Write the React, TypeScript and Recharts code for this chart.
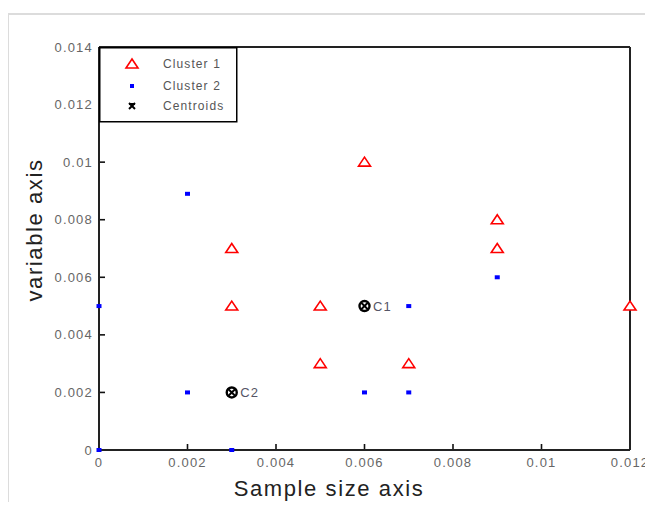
import React from 'react';
import { ScatterChart, Scatter, XAxis, YAxis, ReferenceLine, Legend, LabelList, CartesianGrid } from 'recharts';

const xTicks = [0, 0.002, 0.004, 0.006, 0.008, 0.01, 0.012];
const yTicks = [0, 0.002, 0.004, 0.006, 0.008, 0.01, 0.012, 0.014];

const cluster1X = [0.003, 0.003, 0.005, 0.005, 0.006, 0.007, 0.009, 0.009, 0.012];
const cluster1Y = [0.007, 0.005, 0.005, 0.003, 0.01, 0.003, 0.008, 0.007, 0.005];

const cluster2X = [0, 0, 0.002, 0.002, 0.003, 0.006, 0.007, 0.007, 0.009];
const cluster2Y = [0.005, 0, 0.0089, 0.002, 0, 0.002, 0.002, 0.005, 0.006];

const centroidX = [0.006, 0.003];
const centroidY = [0.005, 0.002];
const centroidLabels = ['C1', 'C2'];

const legendNames = ['Cluster 1', 'Cluster 2', 'Centroids'];

const cluster1 = cluster1X.map((x, i) => ({ x, y: cluster1Y[i] }));
const cluster2 = cluster2X.map((x, i) => ({ x, y: cluster2Y[i] }));
const centroids = centroidX.map((x, i) => ({ x, y: centroidY[i], label: centroidLabels[i] }));

const FONT = '"Liberation Sans", Arial, sans-serif';
const TICK_COLOR = '#666';

const Tri = ({ cx, cy }: any) => (
  <polygon
    points={`${cx},${cy - 5} ${cx + 6},${cy + 4} ${cx - 6},${cy + 4}`}
    fill="#fff"
    stroke="#ff0000"
    strokeWidth={1.6}
  />
);

const Dot = ({ cx, cy }: any) => <rect x={cx - 2.5} y={cy - 2} width={5} height={4} fill="#0000ff" />;

const Centroid = ({ cx, cy }: any) => (
  <g>
    <circle cx={cx} cy={cy} r={5} fill="none" stroke="#000" strokeWidth={2.4} />
    <line x1={cx - 4} y1={cy - 4} x2={cx + 4} y2={cy + 4} stroke="#000" strokeWidth={2} />
    <line x1={cx - 4} y1={cy + 4} x2={cx + 4} y2={cy - 4} stroke="#000" strokeWidth={2} />
  </g>
);

// Inward tick marks drawn through the grid (grid positions come from the axis ticks)
const hTick = (p: any) => {
  const xl = Math.min(p.x1, p.x2);
  return <line key={p.key} x1={xl} y1={p.y1} x2={xl + 6} y2={p.y1} stroke="#111" strokeWidth={1.6} />;
};
const vTick = (p: any) => {
  const yb = Math.max(p.y1, p.y2);
  return <line key={p.key} x1={p.x1} y1={yb} x2={p.x1} y2={yb - 6} stroke="#111" strokeWidth={1.6} />;
};

const YTick = (props: any) => {
  const { x, y, payload } = props;
  return (
    <text
      x={x}
      y={y}
      textAnchor="end"
      dominantBaseline="central"
      fontSize={13}
      letterSpacing={1.2}
      fill={TICK_COLOR}
      fontFamily={FONT}
    >
      {payload.value === 0 ? '0' : String(payload.value)}
    </text>
  );
};

const XTick = (props: any) => {
  const { x, y, payload } = props;
  return (
    <text
      x={x}
      y={y + 1}
      textAnchor="middle"
      dominantBaseline="hanging"
      fontSize={13}
      letterSpacing={1.2}
      fill={TICK_COLOR}
      fontFamily={FONT}
    >
      {payload.value === 0 ? '0' : String(payload.value)}
    </text>
  );
};

const LegendBox = () => (
  <svg width={139} height={76} style={{ display: 'block' }}>
    <rect x={0.75} y={0.75} width={137} height={74} fill="#fff" stroke="#000" strokeWidth={1.5} />
    <polygon points="33,12 39,21 27,21" fill="#fff" stroke="#ff0000" strokeWidth={1.6} />
    <rect x={31} y={37} width={4} height={4} fill="#0000ff" />
    <g stroke="#000" strokeWidth={2}>
      <line x1={30} y1={56} x2={36} y2={62} />
      <line x1={30} y1={62} x2={36} y2={56} />
      <line x1={30} y1={57} x2={36} y2={57} />
    </g>
    {legendNames.map((n, i) => (
      <text
        key={n}
        x={64}
        y={[17, 39, 59][i]}
        dominantBaseline="central"
        fontSize={12}
        letterSpacing={1.1}
        fill="#555"
        fontFamily={FONT}
      >
        {n}
      </text>
    ))}
  </svg>
);

export default function App() {
  return (
    <div style={{ position: 'relative', width: 637, height: 494 }}>
      <style>{'html,body{overflow:hidden}'}</style>
      <div
        style={{
          position: 'absolute',
          left: -1,
          top: 5,
          width: 644,
          height: 497,
          borderLeft: '2px solid #dcdcdc',
          borderTop: '2px solid #dcdcdc',
          pointerEvents: 'none',
        }}
      />
      <ScatterChart width={645} height={502} margin={{ top: 39, right: 23, bottom: 0, left: 0 }}>
        <CartesianGrid horizontal={hTick} vertical={vTick} stroke="#111" />
        <XAxis
          type="number"
          dataKey="x"
          domain={[0, 0.012]}
          ticks={xTicks}
          height={60}
          tickLine={false}
          tickSize={6}
          tickMargin={0}
          axisLine={{ stroke: '#222', strokeWidth: 2 }}
          tick={<XTick />}
          interval={0}
          label={{
            content: () => (
              <text
                x={321}
                y={488}
                textAnchor="middle"
                fontSize={22}
                letterSpacing={1.6}
                fill="#222"
                fontFamily={FONT}
              >
                Sample size axis
              </text>
            ),
          }}
        />
        <YAxis
          type="number"
          dataKey="y"
          domain={[0, 0.014]}
          ticks={yTicks}
          width={91}
          tickLine={false}
          tickSize={6}
          tickMargin={0}
          axisLine={{ stroke: '#222', strokeWidth: 2 }}
          tick={<YTick />}
          interval={0}
          label={{
            content: () => (
              <text
                x={0}
                y={0}
                transform="translate(34,222) rotate(-90)"
                textAnchor="middle"
                fontSize={22}
                letterSpacing={1.6}
                fill="#222"
                fontFamily={FONT}
              >
                variable axis
              </text>
            ),
          }}
        />
        <ReferenceLine y={0.014} stroke="#222" strokeWidth={2} />
        <ReferenceLine x={0.012} stroke="#222" strokeWidth={2} />
        <Legend
          layout="vertical"
          align="center"
          verticalAlign="middle"
          content={() => <LegendBox />}
          wrapperStyle={{ left: 91, top: 39, width: 139, height: 76 }}
        />
        <Scatter name="Cluster 1" data={cluster1} shape={(p: any) => <Tri {...p} />} isAnimationActive={false} />
        <Scatter name="Cluster 2" data={cluster2} shape={(p: any) => <Dot {...p} />} isAnimationActive={false} />
        <Scatter name="Centroids" data={centroids} shape={(p: any) => <Centroid {...p} />} isAnimationActive={false}>
          <LabelList
            dataKey="label"
            position="right"
            offset={4}
            fontSize={13}
            fill="#556"
            fontFamily={FONT}
            letterSpacing={1}
          />
        </Scatter>
      </ScatterChart>
    </div>
  );
}
